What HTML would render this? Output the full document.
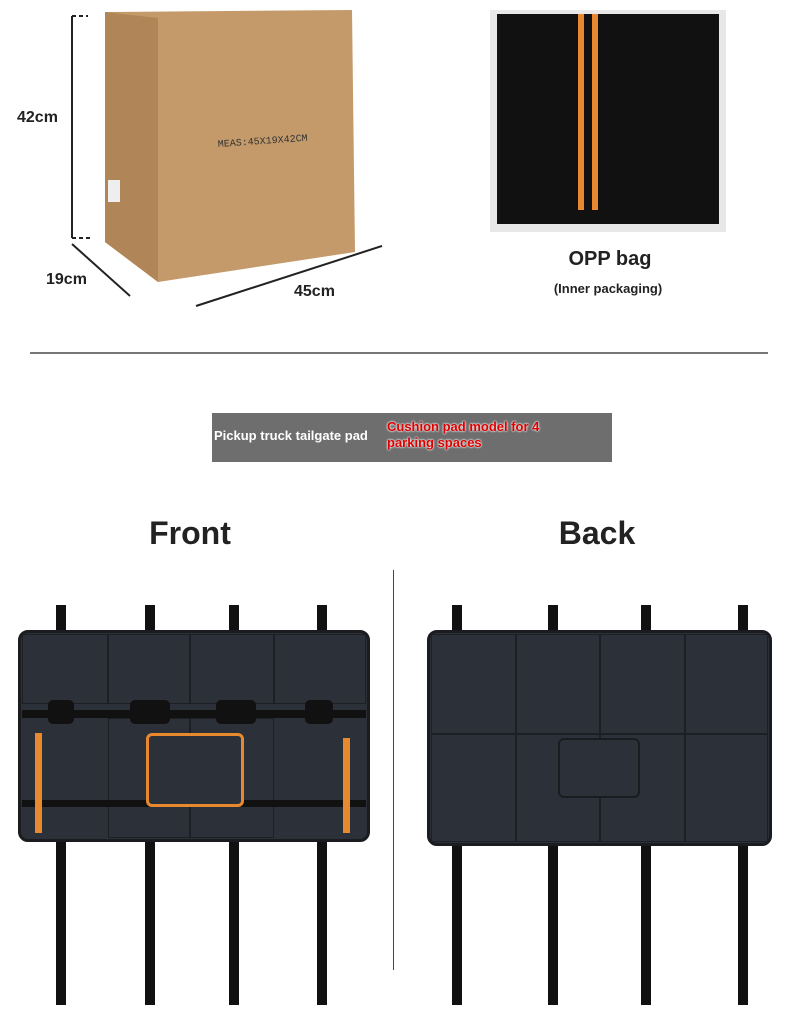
<!DOCTYPE html>
<html><head><style>
body{margin:0;width:790px;height:1023px;background:#fff;position:relative;overflow:hidden;font-family:"Liberation Sans",sans-serif}
.a{position:absolute}
.t{font-weight:bold;color:#222}
.pad{background:#2c3038;border-radius:10px;border:3px solid #1a1c20;box-sizing:border-box}
.s{background:#111}
.g{border:1px solid #1c1f24;box-sizing:border-box}
</style></head><body>
<svg class="a" style="left:0;top:0" width="790" height="360">
<polygon points="105,12 352,10 355,252 158,282 105,242" fill="#c49a6a"/>
<polygon points="105,12 158,18 158,282 105,242" fill="#b08558"/>
<text x="218" y="147" font-size="10" font-family="Liberation Mono" fill="#333" transform="rotate(-4 218 147)">MEAS:45X19X42CM</text>
<rect x="108" y="180" width="12" height="22" fill="#eee"/>
<g stroke="#222" stroke-width="2" fill="none">
<line x1="72" y1="16" x2="72" y2="238"/><line x1="72" y1="16" x2="88" y2="16" stroke-dasharray="4 3"/><line x1="72" y1="238" x2="90" y2="238" stroke-dasharray="4 3"/>
<line x1="72" y1="244" x2="130" y2="296"/>
<line x1="196" y1="306" x2="382" y2="246"/>
</g>
<text x="17" y="122" font-size="16" font-weight="bold" fill="#222">42cm</text>
<text x="46" y="284" font-size="16" font-weight="bold" fill="#222">19cm</text>
<text x="294" y="296" font-size="16" font-weight="bold" fill="#222">45cm</text>
<rect x="490" y="10" width="236" height="222" fill="#e8e8e8"/>
<rect x="497" y="14" width="222" height="210" fill="#111"/>
<rect x="578" y="14" width="6" height="196" fill="#e8892f"/>
<rect x="592" y="14" width="6" height="196" fill="#e8892f"/>
<text x="610" y="265" font-size="20" font-weight="bold" fill="#222" text-anchor="middle">OPP bag</text>
<text x="608" y="293" font-size="13" font-weight="bold" fill="#222" text-anchor="middle">(Inner packaging)</text>
<line x1="30" y1="353" x2="768" y2="353" stroke="#777" stroke-width="2"/>
</svg>
<div class="a" style="left:212px;top:413px;width:400px;height:49px;background:#6e6e6e"></div>
<div class="a" style="left:214px;top:428px;color:#fff;font-size:13px;font-weight:bold">Pickup truck tailgate pad</div>
<div class="a" style="left:387px;top:419px;color:#d00;font-size:13px;font-weight:bold;line-height:16px;text-shadow:0 0 2px #fff,0 0 2px #fff">Cushion pad model for 4<br>parking spaces</div>
<div class="a t" style="left:90px;top:515px;width:200px;text-align:center;font-size:32px">Front</div>
<div class="a t" style="left:497px;top:515px;width:200px;text-align:center;font-size:32px">Back</div>
<div class="a" style="left:393px;top:570px;width:1px;height:400px;background:#444"></div>
<div class="a s" style="left:56px;top:605px;width:10px;height:400px"></div>
<div class="a s" style="left:145px;top:605px;width:10px;height:400px"></div>
<div class="a s" style="left:229px;top:605px;width:10px;height:400px"></div>
<div class="a s" style="left:317px;top:605px;width:10px;height:400px"></div>
<div class="a pad" style="left:18px;top:630px;width:352px;height:212px"></div>
<div class="a g" style="left:22px;top:634px;width:86px;height:70px"></div>
<div class="a g" style="left:108px;top:634px;width:82px;height:70px"></div>
<div class="a g" style="left:190px;top:634px;width:84px;height:70px"></div>
<div class="a g" style="left:274px;top:634px;width:92px;height:70px"></div>
<div class="a g" style="left:108px;top:718px;width:82px;height:120px"></div>
<div class="a g" style="left:190px;top:718px;width:84px;height:120px"></div>
<div class="a s" style="left:22px;top:710px;width:344px;height:8px"></div>
<div class="a s" style="left:22px;top:800px;width:344px;height:7px"></div>
<div class="a" style="left:35px;top:733px;width:7px;height:100px;background:#e8892f"></div>
<div class="a" style="left:343px;top:738px;width:7px;height:95px;background:#e8892f"></div>
<div class="a" style="left:146px;top:733px;width:92px;height:68px;border:3px solid #e8892f;border-radius:6px;background:#2c3038"></div>
<div class="a s" style="left:48px;top:700px;width:26px;height:24px;border-radius:5px"></div>
<div class="a s" style="left:130px;top:700px;width:40px;height:24px;border-radius:5px"></div>
<div class="a s" style="left:216px;top:700px;width:40px;height:24px;border-radius:5px"></div>
<div class="a s" style="left:305px;top:700px;width:28px;height:24px;border-radius:5px"></div>
<div class="a s" style="left:452px;top:605px;width:10px;height:400px"></div>
<div class="a s" style="left:548px;top:605px;width:10px;height:400px"></div>
<div class="a s" style="left:641px;top:605px;width:10px;height:400px"></div>
<div class="a s" style="left:738px;top:605px;width:10px;height:400px"></div>
<div class="a pad" style="left:427px;top:630px;width:345px;height:216px"></div>
<div class="a g" style="left:431px;top:634px;width:85px;height:100px"></div>
<div class="a g" style="left:516px;top:634px;width:84px;height:100px"></div>
<div class="a g" style="left:600px;top:634px;width:85px;height:100px"></div>
<div class="a g" style="left:685px;top:634px;width:83px;height:100px"></div>
<div class="a g" style="left:431px;top:734px;width:85px;height:108px"></div>
<div class="a g" style="left:516px;top:734px;width:84px;height:108px"></div>
<div class="a g" style="left:600px;top:734px;width:85px;height:108px"></div>
<div class="a g" style="left:685px;top:734px;width:83px;height:108px"></div>
<div class="a g" style="left:558px;top:738px;width:82px;height:60px;border-radius:6px;border:2px solid #1a1c20;background:#2c3038"></div>
</body></html>
